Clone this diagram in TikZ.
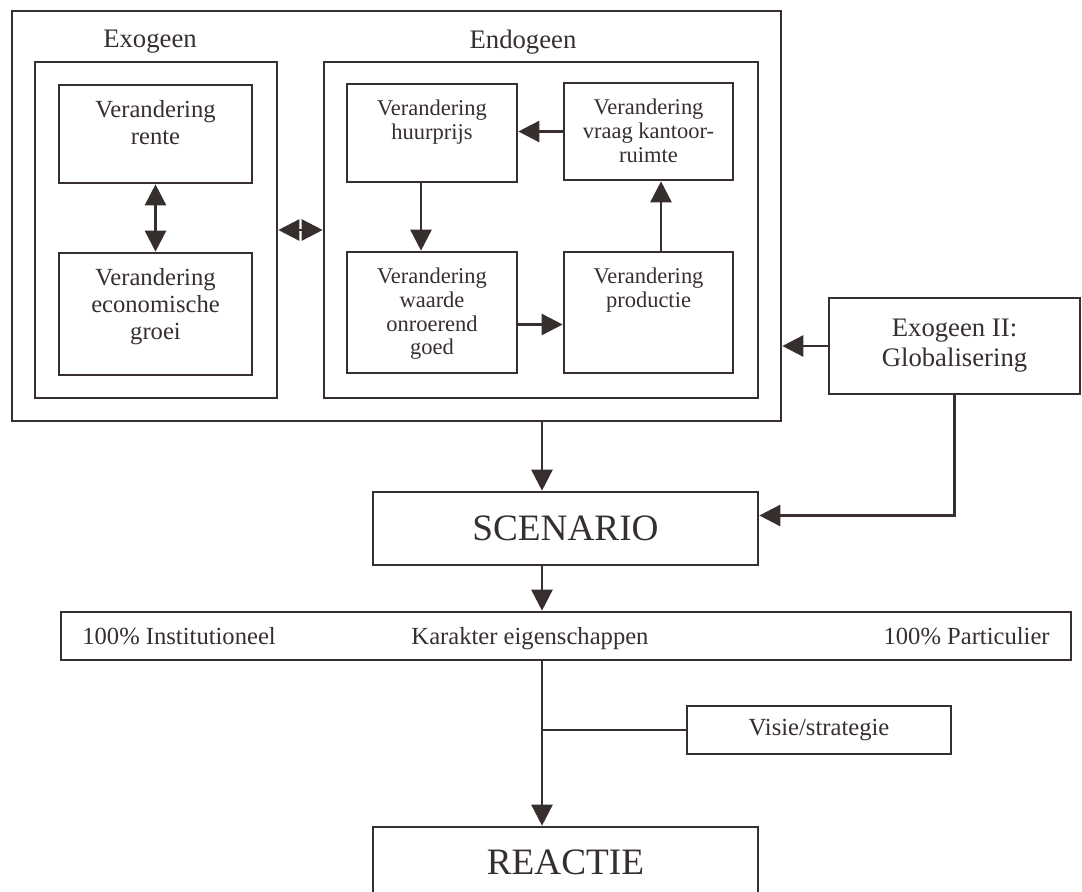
\documentclass[tikz,border=0pt]{standalone}
\usepackage{fontspec}
\setmainfont{Liberation Serif}
\usetikzlibrary{arrows.meta,positioning}
\definecolor{ink}{RGB}{55,46,46}
\begin{document}
\begin{tikzpicture}[color=ink,
  box/.style={draw, line width=0.75pt, inner sep=0pt},
  small/.style={font=\fontsize{7}{7.7}\selectfont, align=center},
  smaller/.style={font=\fontsize{6.4}{6.7}\selectfont, align=center},
  mid/.style={font=\fontsize{7.6}{8.5}\selectfont, align=center},
  big/.style={font=\fontsize{10.6}{12}\selectfont},
  toptxt/.style={label={[small, inner sep=0pt, anchor=north, yshift=-0.16cm]north:{#1}}},
  toptxtb/.style={label={[smaller, inner sep=0pt, anchor=north, yshift=-0.17cm]north:{#1}}},
  arr/.style={draw, line width=0.75pt, -{Triangle[length=6pt,width=6pt]}},
  dbl/.style={draw, line width=0.75pt, {Triangle[length=6pt,width=6pt]}-{Triangle[length=6pt,width=6pt]}}]
\useasboundingbox (0,0) rectangle (10.82,-8.92);
\clip (0,0) rectangle (10.82,-8.92);

\node[box, minimum width=7.69cm, minimum height=4.10cm] (outer) at (3.965,-2.16) {};
\node[box, minimum width=2.42cm, minimum height=3.36cm] (exo) at (1.56,-2.30) {};
\node[box, minimum width=4.34cm, minimum height=3.36cm] (endo) at (5.41,-2.30) {};
\node[mid] (exot) at (1.50,-0.42) {Exogeen};
\node[mid] (endot) at (5.23,-0.42) {Endogeen};

\node[box, minimum width=1.93cm, minimum height=0.98cm, toptxt={Verandering\\rente}] (rente) at (1.555,-1.34) {};
\node[box, minimum width=1.93cm, minimum height=1.22cm, toptxt={Verandering\\economische\\groei}] (groei) at (1.555,-3.14) {};
\node[box, minimum width=1.70cm, minimum height=0.98cm, toptxtb={Verandering\\huurprijs}] (huur) at (4.32,-1.33) {};
\node[box, minimum width=1.70cm, minimum height=1.21cm, toptxtb={Verandering\\waarde\\onroerend\\goed}] (waarde) at (4.32,-3.125) {};
\node[box, minimum width=1.69cm, minimum height=0.97cm, toptxtb={Verandering\\vraag kantoor-\\ruimte}] (kant) at (6.485,-1.315) {};
\node[box, minimum width=1.69cm, minimum height=1.21cm, toptxtb={Verandering\\productie}] (prod) at (6.485,-3.125) {};

\node[box, mid, minimum width=2.51cm, minimum height=0.96cm] (glob) at (9.545,-3.46) {Exogeen II:\\Globalisering};
\node[box, big, minimum width=3.85cm, minimum height=0.73cm] (scen) at (5.655,-5.285) {SCENARIO};
\node[box, minimum width=10.10cm, minimum height=0.48cm] (bar) at (5.66,-6.36) {};
\node[small, inner sep=0pt, anchor=base west] (inst) at ([xshift=0.22cm,yshift=-0.08cm]bar.west) {100\% Institutioneel};
\node[small, inner sep=0pt, anchor=base] (kar) at ([xshift=-0.36cm,yshift=-0.08cm]bar.center) {Karakter eigenschappen};
\node[small, inner sep=0pt, anchor=base east] (part) at ([xshift=-0.22cm,yshift=-0.08cm]bar.east) {100\% Particulier};
\node[box, small, minimum width=2.64cm, minimum height=0.48cm] (vis) at (8.19,-7.30) {Visie/strategie};
\node[box, big, minimum width=3.85cm, minimum height=0.70cm] (reac) at (5.655,-8.62) {REACTIE};

\draw[dbl] (rente) -- (groei);
\draw[dbl] (exo.east) -- (endo.west);
\draw[arr] (kant.west) -- (kant.west -| huur.east);
\draw[arr] ([xshift=-0.11cm]huur.south) -- ([xshift=-0.11cm]huur.south |- waarde.north);
\draw[arr] ([yshift=-0.12cm]waarde.east) -- ([yshift=-0.12cm]waarde.east -| prod.west);
\draw[arr] ([xshift=0.125cm]prod.north) -- ([xshift=0.125cm]prod.north |- kant.south);
\draw[arr] (glob.west) -- (glob.west -| outer.east);

\coordinate (spine) at (5.42,0);
\draw[arr] (outer.south -| spine) -- (scen.north -| spine);
\draw[arr] (glob.south) |- ([yshift=0.13cm]scen.east);
\draw[arr] (scen.south -| spine) -- (bar.north -| spine);
\draw[arr] (bar.south -| spine) -- (reac.north -| spine);
\draw[line width=0.75pt] (vis.west) -- (vis.west -| spine);
\end{tikzpicture}
\end{document}
